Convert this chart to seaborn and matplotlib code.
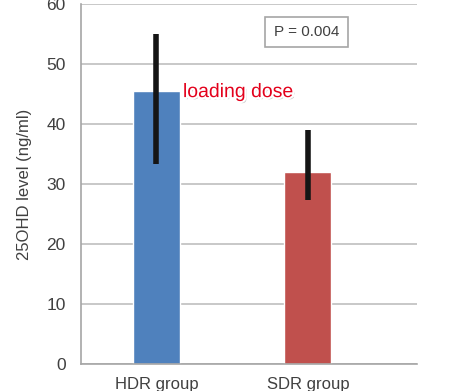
# 25OHD level by group: bar chart with error bars



# Import libraries ............................................................

import numpy as np
import pandas as pd
import seaborn as sns
import matplotlib.pyplot as plt
import matplotlib.patheffects as pe



# Data ........................................................................

groups = ["HDR group", "SDR group"]
means = [45.6, 32.0]
err_low = [33.4, 27.4]
err_high = [55.0, 39.1]
bar_colors = ["#4F81BD", "#C0504D"]
y_ticks = [0, 10, 20, 30, 40, 50, 60]
p_text = "P = 0.004"
note_text = "loading dose"

df = pd.DataFrame({"group": groups, "value": means})



# Plot ........................................................................

sns.set_style("white")
plt.rcParams["font.family"] = ["Liberation Sans", "DejaVu Sans"]

fig = plt.figure(figsize = (4.55, 3.91), dpi = 100)
ax = fig.add_axes([0.178, 0.069, 0.7385, 0.9195])

# Grid behind bars
ax.set_axisbelow(True)
ax.yaxis.grid(True, color = "#BFBFBF", linewidth = 1.2)

sns.barplot(data = df, x = "group", y = "value", hue = "group",
            palette = bar_colors, width = 0.31, legend = False,
            saturation = 1, ax = ax)

# Error bars from given ranges
x_pos = np.arange(len(groups))
lower = np.array(means) - np.array(err_low)
upper = np.array(err_high) - np.array(means)
ax.errorbar(x_pos, means, yerr = [lower, upper], fmt = "none",
            ecolor = "#151515", elinewidth = 4, capsize = 0)

# Axis settings
ax.set_xlim(-0.498, 1.72)
ax.set_ylim(0, 60)
ax.set_yticks(y_ticks)
ax.set_xlabel("")
ax.set_ylabel("25OHD level (ng/ml)", fontsize = 12, color = "#404040",
              labelpad = 10)
ax.tick_params(axis = "y", length = 0, pad = 11, labelsize = 12.5,
               labelcolor = "#404040")
ax.tick_params(axis = "x", length = 0, pad = 9, labelsize = 12,
               labelcolor = "#404040")

for side in ["top", "right"]:
    ax.spines[side].set_visible(False)
for side in ["left", "bottom"]:
    ax.spines[side].set_color("#A6A6A6")
    ax.spines[side].set_linewidth(1.2)

# Annotations
ax.text(0.175, 45.3, note_text, fontsize = 14, color = "#E3001B",
        va = "center", ha = "left",
        path_effects = [pe.withSimplePatchShadow(offset = (1.5, -1.5),
                                                 shadow_rgbFace = "#999999",
                                                 alpha = 0.5),
                        pe.withStroke(linewidth = 3, foreground = "white")])

ax.text(0.671, 0.9235, p_text, transform = ax.transAxes, fontsize = 11,
        color = "#404040", ha = "center", va = "center",
        bbox = dict(boxstyle = "square,pad=0.55", facecolor = "white",
                    edgecolor = "#A6A6A6", linewidth = 1.2))

plt.savefig("out.png", dpi = 100)
